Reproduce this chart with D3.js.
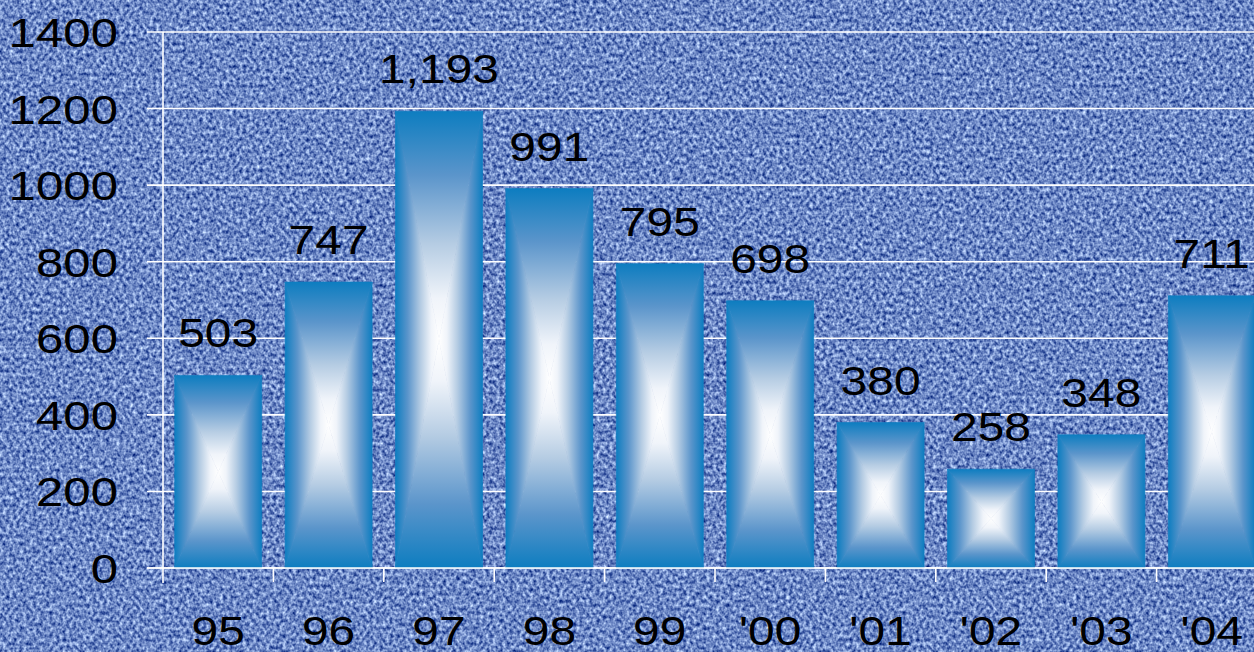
<!DOCTYPE html>
<html lang="en">
<head>
<meta charset="UTF-8" />
<title>Yearly totals</title>
<style>
  body { margin: 0; padding: 0; overflow: hidden; background: #6a88c4; }
  svg { display: block; font-family: "Liberation Sans", Arial, sans-serif; }
</style>
<script src="https://d3js.org/d3.v7.min.js"></script>
</head>
<body>
<svg width="1254" height="652"></svg>
<script>
const years = ["95", "96", "97", "98", "99", "'00", "'01", "'02", "'03", "'04"];
const values = [503, 747, 1193, 991, 795, 698, 380, 258, 348, 711];
const valueLabels = ["503", "747", "1,193", "991", "795", "698", "380", "258", "348", "711"];
const yTicks = [0, 200, 400, 600, 800, 1000, 1200, 1400];

const svg = d3.select("svg");
const width = +svg.attr("width");
const height = +svg.attr("height");

// plot runs past the right edge of the picture, like the original
const x = d3.scaleBand().domain(years).range([163, 1267]).paddingInner(0.212).paddingOuter(0.106);
const y = d3.scaleLinear().domain([0, 1400]).range([568, 32]);
const step = x.step();
const stretch = "scale(1.2,1)";

const defs = svg.append("defs");

// cloth texture for the background
const cloth = defs.append("filter").attr("id", "cloth")
  .attr("x", 0).attr("y", 0).attr("width", "100%").attr("height", "100%")
  .attr("color-interpolation-filters", "sRGB");
cloth.append("feTurbulence").attr("type", "fractalNoise")
  .attr("baseFrequency", "0.3 0.26").attr("numOctaves", 2).attr("seed", 7).attr("result", "n");
cloth.append("feColorMatrix").attr("type", "matrix").attr("values",
  "1.15 0 0 0 -0.15 " +
  "1.1 0 0 0 -0.02 " +
  "0.8 0 0 0 0.37 " +
  "0 0 0 0 1");

// edge-to-centre gradients, one per face of the bar
const stops = [[0, "#0d7dc0"], [0.28, "#5b95cb"], [0.58, "#b5cce3"], [0.82, "#f0f4fa"], [1, "#ffffff"]];
const faces = [
  { id: "gTop", x2: 0, y2: 1 },
  { id: "gBot", x1: 0, y1: 1, x2: 0, y2: 0 },
  { id: "gLeft", x2: 1, y2: 0 },
  { id: "gRight", x1: 1, y1: 0, x2: 0, y2: 0 }
];
faces.forEach(f => {
  const g = defs.append("linearGradient").attr("id", f.id)
    .attr("x1", f.x1 || 0).attr("y1", f.y1 || 0).attr("x2", f.x2).attr("y2", f.y2);
  stops.forEach(s => g.append("stop").attr("offset", s[0]).attr("stop-color", s[1]));
});

svg.append("rect").attr("width", width).attr("height", height)
  .attr("fill", "#6a88c4").attr("filter", "url(#cloth)");

// grid lines (with the little tick stubs left of the axis)
svg.append("g").selectAll("line").data(yTicks).join("line")
  .attr("x1", 147).attr("x2", width)
  .attr("y1", d => y(d)).attr("y2", d => y(d))
  .attr("stroke", "#fff").attr("stroke-width", 1.6);

svg.append("g").selectAll("text").data(yTicks).join("text")
  .attr("transform", d => `translate(118,${y(d) + 15}) ${stretch}`)
  .attr("text-anchor", "end")
  .attr("font-size", 41)
  .text(d => d);

// bars drawn as four triangles meeting in the middle
const bars = svg.append("g").selectAll("g").data(values).join("g");
bars.each(function (v, i) {
  const x0 = x(years[i]), x1 = x0 + x.bandwidth();
  const y0 = y(v), y1 = y(0);
  const cx = (x0 + x1) / 2, cy = (y0 + y1) / 2;
  const tris = [
    ["gTop", [[x0, y0], [x1, y0], [cx, cy]]],
    ["gBot", [[x0, y1], [x1, y1], [cx, cy]]],
    ["gLeft", [[x0, y0], [x0, y1], [cx, cy]]],
    ["gRight", [[x1, y0], [x1, y1], [cx, cy]]]
  ];
  d3.select(this).selectAll("path").data(tris).join("path")
    .attr("d", d => "M" + d[1].join("L") + "Z")
    .attr("fill", d => `url(#${d[0]})`)
    .attr("stroke", d => `url(#${d[0]})`)
    .attr("stroke-width", 0.6);
});

// axes
svg.append("line").attr("x1", 163).attr("x2", 163).attr("y1", 32).attr("y2", 583)
  .attr("stroke", "#fff").attr("stroke-width", 1.6);
svg.append("line").attr("x1", 147).attr("x2", width).attr("y1", 568).attr("y2", 568)
  .attr("stroke", "#fff").attr("stroke-width", 1.6);
svg.append("g").selectAll("line").data(years.slice(1)).join("line")
  .attr("x1", d => x(d) - step * 0.106).attr("x2", d => x(d) - step * 0.106)
  .attr("y1", 568).attr("y2", 582)
  .attr("stroke", "#fff").attr("stroke-width", 1.6);

// value labels
svg.append("g").selectAll("text").data(values).join("text")
  .attr("transform", (d, i) => `translate(${x(years[i]) + x.bandwidth() / 2},${y(d) - 28}) ${stretch}`)
  .attr("text-anchor", "middle")
  .attr("font-size", 40)
  .text((d, i) => valueLabels[i]);

// category labels
svg.append("g").selectAll("text").data(years).join("text")
  .attr("transform", d => `translate(${x(d) + x.bandwidth() / 2},645) ${stretch}`)
  .attr("text-anchor", "middle")
  .attr("font-size", 40)
  .text(d => d);
</script>
</body>
</html>
